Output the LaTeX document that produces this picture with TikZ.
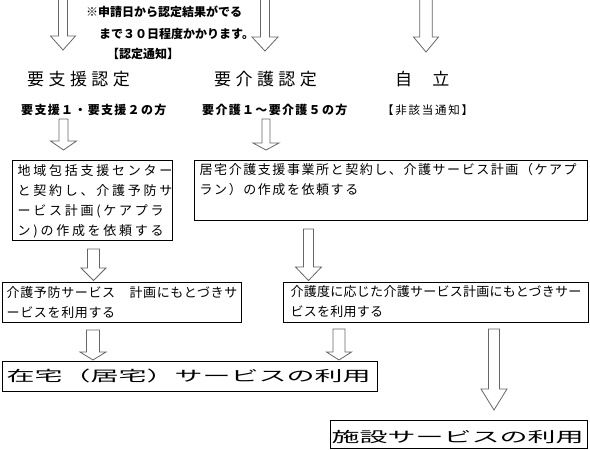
\documentclass[tikz,border=0pt]{standalone}
\usepackage{fontspec}
\setmainfont{Noto Sans CJK JP}
\usepackage{graphicx}
\usepackage{tikz}
\usetikzlibrary{positioning, calc}
% hollow block arrow pointing down: x, top, head start, tip, shaft half width, head half width
\newcommand{\hollowdown}[6]{%
  \draw[blockarrow] ({#1-#5},#2) -- ({#1-#5},#3) -- ({#1-#6},#3) -- (#1,#4)
    -- ({#1+#6},#3) -- ({#1+#5},#3) -- ({#1+#5},#2) -- cycle;}
\newcommand{\spaced}[1]{\addfontfeature{LetterSpace=#1}}

\begin{document}
\begin{tikzpicture}[x=1pt, y=-1pt,
  every node/.style={inner sep=0pt, anchor=base west},
  blockarrow/.style={draw=black!60, line width=0.8pt, fill=white},
  framebox/.style={draw=black, line width=0.9pt, anchor=north west},
  notetext/.style={font=\fontsize{12}{14}\selectfont\bfseries},
  headtext/.style={font=\fontsize{17}{20}\selectfont\spaced{26}},
  subtext/.style={font=\fontsize{12}{14}\selectfont\bfseries\spaced{11}},
  boxtext/.style={anchor=north west, align=left},
  bigtext/.style={font=\fontsize{14.5}{16}\selectfont}]
  \useasboundingbox (0,0) rectangle (590,450);
  \clip (0,0) rectangle (590,450);

  % Top arrows and note
  \hollowdown{63}{-2}{36}{50}{4.5}{12.5}
  \hollowdown{265}{-2}{37}{51}{4.5}{13}
  \hollowdown{426}{-2}{37}{52}{6.3}{12.5}
  \node[notetext] (note1) at (86,16) {※申請日から認定結果がでる};
  \node[notetext] (note2) at (99,38) {まで３０日程度かかります。};
  \node[notetext] (note3) at (107,58.5) {【認定通知】};

  % Results of the assessment
  \node[headtext] (support) at (27,85.5) {要支援認定};
  \node[headtext] (care) at (214,85.5) {要介護認定};
  \node[font=\fontsize{17}{20}\selectfont\spaced{9}] (indep) at (395,85.5) {自　立};
  \node[subtext] (supportsub) at (21,114.5) {要支援１・要支援２の方};
  \node[subtext] (caresub) at (202,114.5) {要介護１～要介護５の方};
  \node[font=\fontsize{11.5}{13}\selectfont\spaced{15}] (indepsub) at (382,114.5) {【非該当通知】};
  \hollowdown{63.5}{119}{141}{150}{4.5}{13}
  \hollowdown{266}{119}{143}{150}{4}{13}

  % Care plan boxes
  \node[framebox, minimum width=160pt, minimum height=80pt] (plan1) at (12,160) {};
  \node[boxtext, font=\fontsize{13}{20}\selectfont\spaced{21}] (plan1text)
    at ([shift={(5.5,4.3)}]plan1.north west)
    {地域包括支援センター\\と契約し、介護予防サ\\ービス計画(ケアプラ\\ン)の作成を依頼する};
  \node[framebox, minimum width=393pt, minimum height=60pt] (plan2) at (194,160) {};
  \node[boxtext, font=\fontsize{13}{20}\selectfont\spaced{12}] (plan2text)
    at ([shift={(5.5,3.6)}]plan2.north west)
    {居宅介護支援事業所と契約し、介護サービス計画（ケアプ\\ラン）の作成を依頼する};
  \hollowdown{93.5}{249}{268}{280.5}{6}{12.5}
  \hollowdown{308.5}{229}{267}{280.5}{5}{13}

  % Service use boxes
  \node[framebox, minimum width=239pt, minimum height=40pt] (use1) at (2,282) {};
  \node[boxtext, font=\fontsize{13}{19.5}\selectfont\spaced{5}] (use1text)
    at ([shift={(4.5,4.5)}]use1.north west)
    {介護予防サービス　計画にもとづきサ\\ービスを利用する};
  \node[framebox, minimum width=305pt, minimum height=40pt] (use2) at (283,282) {};
  \node[boxtext, font=\fontsize{13}{19.5}\selectfont\spaced{2}] (use2text)
    at ([shift={(7.5,3.5)}]use2.north west)
    {介護度に応じた介護サービス計画にもとづきサー\\ビスを利用する};
  \hollowdown{93}{330}{352}{360}{6.5}{13}
  \hollowdown{339}{329}{352}{360}{6}{12.5}
  \hollowdown{494}{329}{389}{410}{5.5}{13}

  % Final boxes
  \node[framebox, minimum width=375pt, minimum height=30pt] (home) at (2,361) {};
  \node[bigtext] (hometext) at (6.5,381) {\scalebox{1.93}[1]{在宅（居宅）サービスの利用}};
  \node[framebox, minimum width=257pt, minimum height=28pt] (facility) at (330,420) {};
  \node[bigtext] (facilitytext) at (331.5,442) {\scalebox{1.93}[1]{施設サービスの利用}};
\end{tikzpicture}
\end{document}
